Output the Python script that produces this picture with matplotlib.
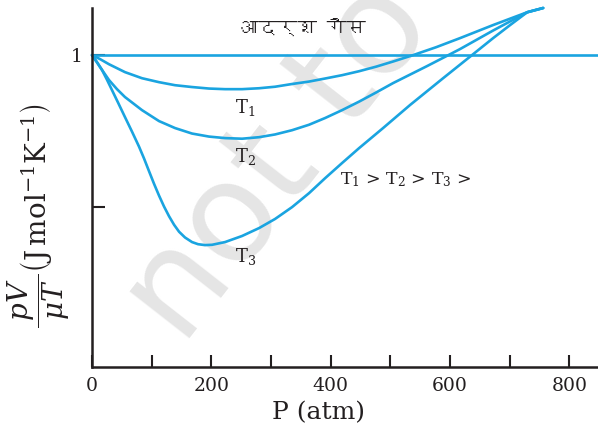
import matplotlib
matplotlib.use("Agg")
import matplotlib.pyplot as plt
from matplotlib import font_manager
from fontTools.ttLib import TTFont

# values: P in atm, pV/uT (1 = ideal gas)
ideal_p = [0, 848]
ideal_z = [1.0, 1.0]

t1_p = [0, 13.4, 28.5, 55.3, 83.8, 112.3, 139.2, 167.6, 196.1, 223.0, 251.5, 280.0,
        306.8, 335.3, 363.8, 390.6, 419.1, 447.6, 476.1, 504.6, 538.1, 576.7, 616.9,
        672.3, 729.3, 756.1]
t1_z = [1.0, 0.987, 0.970, 0.944, 0.924, 0.911, 0.901, 0.895, 0.890, 0.888, 0.888, 0.891,
        0.896, 0.905, 0.913, 0.923, 0.934, 0.947, 0.962, 0.979, 1.0, 1.026, 1.056,
        1.099, 1.141, 1.155]

t2_p = [0, 13.4, 28.5, 41.9, 55.3, 83.8, 112.3, 139.2, 167.6, 196.1, 223.0, 251.5,
        280.0, 306.8, 335.3, 363.8, 390.6, 419.1, 447.6, 476.1, 504.6, 533.1, 561.6,
        600.2, 616.9, 672.3, 729.3, 756.1]
t2_z = [1.0, 0.961, 0.918, 0.888, 0.862, 0.819, 0.783, 0.760, 0.742, 0.732, 0.727, 0.725,
        0.730, 0.739, 0.753, 0.771, 0.793, 0.819, 0.847, 0.877, 0.908, 0.936, 0.964,
        1.003, 1.020, 1.081, 1.141, 1.155]

t3_p = [0, 8.4, 16.8, 25.1, 33.5, 43.6, 55.3, 67.1, 78.8, 87.2, 95.6, 103.9, 112.3,
        120.7, 129.1, 137.5, 145.9, 155.9, 167.6, 177.7, 189.4, 201.2, 223.0, 251.5,
        280.0, 306.8, 335.3, 363.8, 390.6, 419.1, 447.6, 487.8, 533.1, 588.4, 638.7,
        672.3, 700.8, 729.3, 756.1]
t3_z = [1.0, 0.977, 0.951, 0.919, 0.885, 0.844, 0.796, 0.748, 0.699, 0.660, 0.618, 0.577,
        0.538, 0.502, 0.470, 0.442, 0.419, 0.400, 0.385, 0.378, 0.375, 0.376, 0.385,
        0.405, 0.431, 0.461, 0.500, 0.546, 0.595, 0.645, 0.694, 0.760, 0.836, 0.924,
        1.003, 1.056, 1.099, 1.141, 1.155]

x_ticks = [0, 100, 200, 300, 400, 500, 600, 700, 800]
x_labels = ["0", "", "200", "", "400", "", "600", "", "800"]
y_ticks = [0.5, 1.0]
y_labels = ["", "1"]

# (text, P, z) with z at the text baseline
curve_labels = [("T$_1$", 240, 0.809), ("T$_2$", 240, 0.648), ("T$_3$", 240, 0.319)]
order_label = ("T$_1$ > T$_2$ > T$_3$ >", 416, 0.576)
ideal_label = ("आदर्श गैस", 352, 1.092)


def devanagari_font():
    for f in font_manager.fontManager.ttflist:
        try:
            cmap = TTFont(f.fname, fontNumber=0, lazy=True).getBestCmap()
        except Exception:
            continue
        if cmap and 0x0906 in cmap and 0x0938 in cmap:
            return f.name
    return "DejaVu Sans"


plt.rcParams["font.family"] = "DejaVu Serif"
plt.rcParams["mathtext.fontset"] = "dejavuserif"

blue = "#1aa4e0"
ink = "#231f20"
W, H = 598, 433
fig = plt.figure(figsize=(W / 100, H / 100), dpi=100)
ax = fig.add_axes([92 / W, 1 - 367 / H, 1 - 92 / W, (367 - 8) / H])
ax.patch.set_alpha(0)
ax.set_zorder(2)

# faint watermark behind the plot
fig.text(182 / W, 1 - 348 / H, "not to be", fontsize=100, color="#e5e5e5",
         rotation=52, rotation_mode="anchor", ha="left", va="baseline",
         family="DejaVu Sans", zorder=0)

for p, z in [(ideal_p, ideal_z), (t1_p, t1_z), (t2_p, t2_z), (t3_p, t3_z)]:
    ax.plot(p, z, color=blue, lw=1.9, solid_joinstyle="round",
            solid_capstyle="round", clip_on=False)

ax.set_xlim(0, 848)
ax.set_ylim(-0.026, 1.155)
for s in ["top", "right"]:
    ax.spines[s].set_visible(False)
for s in ["left", "bottom"]:
    ax.spines[s].set_linewidth(1.8)
    ax.spines[s].set_color(ink)

ax.set_xticks(x_ticks, x_labels)
ax.set_yticks(y_ticks, y_labels)
ax.tick_params(axis="both", direction="in", length=9, width=1.5, color=ink,
               labelsize=13.5, labelcolor=ink)
ax.tick_params(axis="x", pad=7)
ax.tick_params(axis="y", pad=7)

fig.text(318 / W, 1 - 413 / H, "P (atm)", fontsize=18, color=ink,
         ha="center", va="center")
fig.text(39 / W, 1 - 215 / H,
         r"$\dfrac{\;pV\;}{\;\mu T\;}\left(\mathrm{J\,mol^{-1}K^{-1}}\right)$",
         fontsize=20, color=ink, rotation=90, ha="center", va="center")

for txt, px, pz in curve_labels:
    ax.text(px, pz, txt, fontsize=13, color=ink, ha="left", va="baseline")
ax.text(order_label[1], order_label[2], order_label[0], fontsize=12.5, color=ink,
        ha="left", va="baseline")
ax.text(ideal_label[1], ideal_label[2], ideal_label[0], fontsize=14, color=ink,
        ha="center", va="center", family=[devanagari_font(), "DejaVu Sans"])

fig.savefig("out.png", dpi=100)
